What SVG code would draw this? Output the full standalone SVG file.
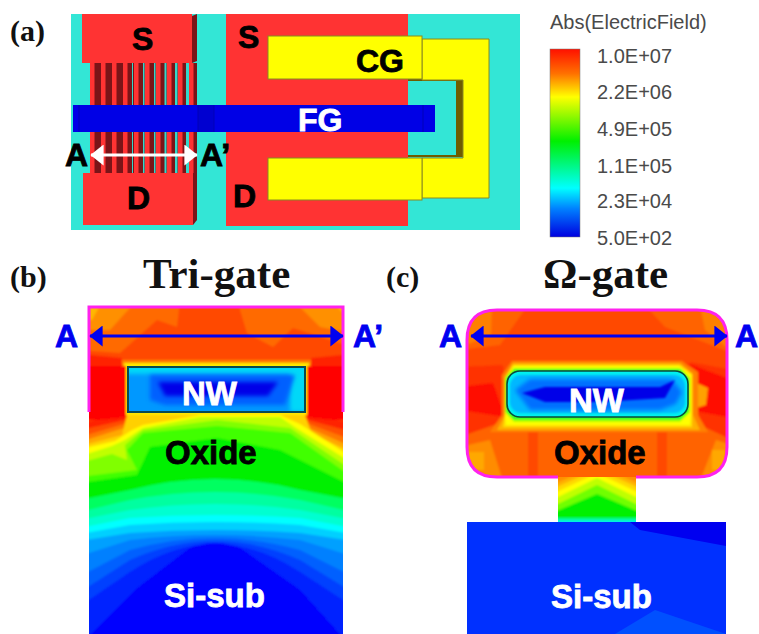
<svg xmlns="http://www.w3.org/2000/svg" width="759" height="634" viewBox="0 0 759 634">
<style>
.lb{font-family:"Liberation Sans",Arial,sans-serif;font-weight:700;font-size:32px;stroke-width:.8px}
.k{fill:#000;stroke:#000}.w{fill:#fff;stroke:#fff}.b{fill:#0000f0;stroke:#0000f0}
.ser{font-family:"Liberation Serif","Times New Roman",serif;font-weight:700;fill:#111}
.leg{font-family:"Liberation Sans",Arial,sans-serif;font-size:20px;fill:#4a4a4a}
.red{fill:#ff3333}.dk{fill:#7a1418}.yl{fill:#ffff00;stroke:#8a8a20;stroke-width:1}
</style>
<defs>
<linearGradient id="bar" x1="0" y1="0" x2="0" y2="1">
<stop offset="0" stop-color="#ff1000"/><stop offset=".13" stop-color="#ff7000"/><stop offset=".255" stop-color="#ffff00"/><stop offset=".49" stop-color="#00f000"/><stop offset=".74" stop-color="#00ffff"/><stop offset=".85" stop-color="#0080ff"/><stop offset="1" stop-color="#0000e0"/>
</linearGradient>
<filter id="soft" x="-5%" y="-5%" width="110%" height="110%"><feGaussianBlur stdDeviation="0.8"/></filter>
<filter id="soft2" x="-10%" y="-30%" width="120%" height="160%"><feGaussianBlur stdDeviation="2.2"/></filter>
<clipPath id="cb"><rect x="89" y="307" width="254" height="327"/></clipPath>
<clipPath id="cc"><path d="M467,340Q467,310 497,310H697Q727,310 727,340V447Q727,477 697,477H497Q467,477 467,447Z"/></clipPath>
<clipPath id="cs"><rect x="558" y="470" width="78" height="52"/></clipPath>
<clipPath id="n1"><rect x="129" y="368" width="175" height="43"/></clipPath>
<clipPath id="n2"><rect x="508" y="372" width="179" height="44" rx="12"/></clipPath>
<marker id="hw" markerWidth="4.4" markerHeight="7" refX="4.2" refY="3.5" orient="auto-start-reverse" markerUnits="strokeWidth"><path d="M0,0L4.4,3.5L0,7Z" fill="#fff"/></marker>
<marker id="hb" markerWidth="4.4" markerHeight="7" refX="4.2" refY="3.5" orient="auto-start-reverse" markerUnits="strokeWidth"><path d="M0,0L4.4,3.5L0,7Z" fill="#0000f0"/></marker>
</defs>
<rect width="759" height="634" fill="#fff"/>

<g id="panel-a">
<rect x="71" y="14" width="449" height="216" fill="#33e6d6"/>
<g id="a-finfet">
<rect x="90" y="63" width="107" height="110" fill="#7a1418"/>
<path d="M132,63h1v110h-1zM143,63h1.500v110h-1.500zM154,63h1.500v110h-1.500zM164.500,63h2v110h-2zM175,63h2.500v110h-2.500zM186,63h3v110h-3z" fill="#33d8cc"/>
<path d="M90,63h4.500v110h-4.500zM101,63h4.500v110h-4.500zM112,63h4.500v110h-4.500zM123,63h4.500v110h-4.500zM134,63h4.500v110h-4.500zM145,63h4.500v110h-4.500zM156,63h4.500v110h-4.500zM167,63h4.500v110h-4.500zM178,63h4.500v110h-4.500zM189,63h4.500v110h-4.500z" class="red"/>
<rect x="82" y="14" width="110" height="49" class="red"/>
<path d="M192,16l5,-2v47l-5,2z" class="dk"/>
<rect x="83" y="173" width="110" height="52" class="red"/>
<path d="M193,173h4v47l-4,5z" class="dk"/>
</g>
<g id="a-device">
<rect x="226" y="14" width="182" height="212" class="red"/>
<path d="M408,80h48v75h-48z" fill="#33e6d6"/>
<path d="M408,79h55v76h-7v-74h-48zM408,155h55v2h-55z" fill="#6e5c00"/>
<path d="M422,39H489V198H422V158H463V80H422Z" class="yl"/>
<rect x="268" y="36" width="154" height="43" class="yl"/>
<rect x="268" y="158" width="154" height="42" class="yl"/>
</g>
<g id="a-fg">
<rect x="73" y="105" width="362" height="27" fill="#0000e6"/>
<rect x="198" y="105" width="16" height="27" fill="#0000d0"/>
<path d="M79,105v27M198,105v27M214,105v27M423,105v27" stroke="#0000b8" stroke-width="1" fill="none"/>
</g>
<text class="lb k" x="132" y="50">S</text>
<text class="lb k" x="238" y="48">S</text>
<text class="lb k" x="127" y="209">D</text>
<text class="lb k" x="233" y="207">D</text>
<text class="lb k" x="356" y="72">CG</text>
<text class="lb w" x="298" y="131">FG</text>
<text class="lb k" x="65" y="166">A</text>
<text class="lb k" x="200" y="166">A’</text>
</g>

<g id="legend">
<text class="leg" x="550" y="29">Abs(ElectricField)</text>
<rect x="550" y="49" width="30" height="188" fill="url(#bar)" stroke="#777" stroke-width=".5"/>
<text class="leg" x="597" y="63">1.0E+07</text>
<text class="leg" x="597" y="99">2.2E+06</text>
<text class="leg" x="597" y="136">4.9E+05</text>
<text class="leg" x="597" y="173">1.1E+05</text>
<text class="leg" x="597" y="208">2.3E+04</text>
<text class="leg" x="597" y="245">5.0E+02</text>
</g>

<g id="panel-b">
<g clip-path="url(#cb)"><g filter="url(#soft)">
<rect x="80" y="300" width="272" height="340" fill="#ff4a00"/>
<path d="M80,300H180L177,327L157,320L120,353L80,350Z" fill="#ff6a00"/>
<path d="M237,300H352V347L293,328L273,347L247,333Z" fill="#ff6a00"/>
<path d="M80,300H137L110,330H80Z" fill="#ff9000"/>
<path d="M293,300H352V333L320,327Z" fill="#ff9000"/>
<path d="M80,300H103L92,320H80Z" fill="#ffb800"/>
<path d="M330,300H352V322Z" fill="#ffb800"/>
<rect x="122" y="360" width="189" height="54" fill="#ff8000"/>
<rect x="124" y="363" width="185" height="52" fill="#ffe800"/>
<path d="M80,354L122,358V420H80ZM311,358L352,354V420H311Z" fill="#ff2400"/>
<path d="M80,366H126V420H80ZM307,366H352V420H307Z" fill="#ff0000"/>
<path d="M80,422L127,417H305L352,422V640H80Z" fill="#ff2000"/>
<path d="M80,430L125,420L130,415H303L308,420L352,432V640H80Z" fill="#ff5000"/>
<path d="M80,437L124,424L130,415H303L309,424L352,440V640H80Z" fill="#ff7800"/>
<path d="M80,442L124,428L130,415H303L309,428L352,447V640H80Z" fill="#ffa800"/>
<path d="M80,446L122,435L127,415H305L312,434L352,452V640H80Z" fill="#ffd000"/>
<path d="M80,449L115,441L132,430L143,425L200,415H280L300,424L352,457V640H80Z" fill="#ffff00"/>
<path d="M80,456L112,446L125,440L143,428L200,417H280L296,428L352,463V640H80Z" fill="#c0ff00"/>
<path d="M80,463L112,454L127,460L125,445L143,430L217,420L290,428L352,470V640H80Z" fill="#80ff00"/>
<path d="M80,477L137,470L127,450L143,433L217,426L290,433L352,477V640H80Z" fill="#40ff00"/>
<path d="M80,483L137,475L150,447L217,438L280,450L352,486V640H80Z" fill="#00f000"/>
<path d="M80,500L130,490Q215,468 300,490L352,500V640H80Z" fill="#00ff60"/>
<path d="M80,512L130,500Q215,484 300,500L352,512V640H80Z" fill="#00ffa0"/>
<path d="M80,520L130,510Q215,498 300,510L352,520V640H80Z" fill="#00ffd0"/>
<path d="M80,528L130,518Q215,512 300,518L352,528V640H80Z" fill="#00ffff"/>
<path d="M80,534L130,525Q215,519 300,525L352,534V640H80Z" fill="#00d0ff"/>
<path d="M80,541L130,533Q215,527 300,533L352,541V640H80Z" fill="#00a0ff"/>
<path d="M80,556L130,540Q215,530 300,540L352,556V640H80Z" fill="#0080ff"/>
<path d="M80,576L130,550Q215,526 300,550L352,576V640H80Z" fill="#0060ff"/>
<path d="M80,592L130,560Q215,522 300,560L352,592V640H80Z" fill="#0040ff"/>
<path d="M80,606L130,572Q215,516 300,572L352,606V640H80Z" fill="#0020ff"/>
<path d="M85,640L135,590L190,548Q215,538 240,548L300,590L345,640Z" fill="#0000ff"/>
</g></g>
<path d="M89,412V307H343V412" fill="none" stroke="#ff22ee" stroke-width="3"/>
<g id="b-nw">
<rect x="128" y="367" width="177" height="45" fill="#0098ff" stroke="#0a4a50" stroke-width="2"/>
<g clip-path="url(#n1)">
<path d="M125,365H308V374H125ZM290,365H308V412H290Z" fill="#00d8f8" filter="url(#soft2)"/>
<path d="M150,375H295L285,405H165L150,400Z" fill="#0060ff" filter="url(#soft2)"/>
<path d="M158,382H278L268,396H165Z" fill="#0000e8" filter="url(#soft2)"/>
</g>
</g>
<text class="lb w" x="182" y="405" style="font-size:33px">NW</text>
<text class="lb k" x="165" y="464" style="font-size:33px">Oxide</text>
<text class="lb w" x="164" y="607" style="font-size:33px">Si-sub</text>
</g>

<g id="panel-c">
<g clip-path="url(#cs)"><g filter="url(#soft)">
<rect x="550" y="465" width="94" height="60" fill="#ff9000"/>
<path d="M550,486L597,465L644,486V530H550Z" fill="#ffb000"/>
<path d="M550,490L597,469L644,490V530H550Z" fill="#ffd800"/>
<path d="M550,495L597,473L644,495V530H550Z" fill="#ffff00"/>
<path d="M550,501L597,478L644,501V530H550Z" fill="#c0ff00"/>
<path d="M550,508L597,485L644,508V530H550Z" fill="#70ff00"/>
<path d="M550,514L597,494L644,514V530H550Z" fill="#00f000"/>
<path d="M550,518H644V530H550Z" fill="#00ff90"/>
<path d="M550,520.500H644V530H550Z" fill="#00f0f0"/>
</g></g>
<g clip-path="url(#cc)"><g filter="url(#soft)">
<rect x="460" y="305" width="272" height="176" fill="#ff6400"/>
<path d="M528,305H645L665,327L732,353V375H460V350L500,345Z" fill="#ff4a00"/>
<path d="M460,305H492L491,335L466,345H460ZM700,305H732V352L705,330Z" fill="#ff8000"/>
<path d="M460,447L490,440L503,481H460ZM700,481L716,440L732,445V481Z" fill="#ff8c00"/>
<path d="M468,452H484V470H468ZM712,450H725V470H712Z" fill="#ffa800"/>
<path d="M460,367L503,365L508,420L460,437ZM690,362L732,370V440L700,425Z" fill="#ff3000"/>
<path d="M460,387L493,383L505,417L460,410ZM680,362L692,365L732,380V418L690,410L700,395Z" fill="#ff0c00"/>
<path d="M528,432H538V481H528ZM657,432H667V481H657Z" fill="#ff4a00"/>
<path d="M690,380L708,388L706,405L690,410Z" fill="#ffa000"/>
<path d="M512,361H682L698,372V415L708,432H490L502,415V375Z" fill="#ff8000"/>
<path d="M513,363H680L693,374V415L700,430H497L505,415V377Z" fill="#ffb000"/>
<path d="M513,365H680L692,374V415L692,427H503L505,415V378Z" fill="#ffe000"/>
<path d="M514,366H679L691,375V415L690,425H506L505,415V378Z" fill="#ffff00"/>
<path d="M514,368H679L690,378V412L680,422H514L505,412V378Z" fill="#b0ff00"/>
<path d="M514,369H681L689,378V412L680,420H514L506,412V378Z" fill="#30ff20"/>
</g></g>
<path d="M558,477H497Q467,477 467,447V340Q467,310 497,310H697Q727,310 727,340V447Q727,477 697,477H636" fill="none" stroke="#ff22ee" stroke-width="3"/>
<g id="c-nw">
<rect x="507" y="371" width="181" height="46" rx="13" fill="#00f0f0" stroke="#0a4a40" stroke-width="1.6"/>
<g clip-path="url(#n2)">
<rect x="510" y="375" width="175" height="38" rx="11" fill="#00b8ff" filter="url(#soft)"/>
<path d="M515,390L530,379H672L682,392L676,404L660,410H530Z" fill="#0070ff" filter="url(#soft2)"/>
<path d="M522,393L545,387H660L675,380L665,398L600,402L545,402Z" fill="#0000e8" filter="url(#soft)"/>
</g>
</g>
<g id="c-sub">
<rect x="467" y="522" width="259" height="112" fill="#0030ff"/>
<path d="M630,522H726V546L640,530Z" fill="#0000f0"/>
<path d="M615,634L655,610L726,634Z" fill="#0050ff"/>
</g>
<text class="lb w" x="569" y="412" style="font-size:33px">NW</text>
<text class="lb k" x="554" y="464" style="font-size:33px">Oxide</text>
<text class="lb w" x="551" y="608" style="font-size:33px">Si-sub</text>
</g>

<g id="connectors">
<line x1="91" y1="155" x2="197" y2="155" stroke="#fff" stroke-width="3" marker-start="url(#hw)" marker-end="url(#hw)"/>
<line x1="90" y1="336" x2="343" y2="336" stroke="#0000f0" stroke-width="3" marker-start="url(#hb)" marker-end="url(#hb)"/>
<line x1="471" y1="336" x2="727" y2="336" stroke="#0000f0" stroke-width="3" marker-start="url(#hb)" marker-end="url(#hb)"/>
</g>

<g id="labels">
<text class="ser" x="10" y="41" font-size="30">(a)</text>
<text class="ser" x="10" y="287" font-size="30">(b)</text>
<text class="ser" x="386" y="287" font-size="30">(c)</text>
<text class="ser" x="143" y="288" font-size="43">Tri-gate</text>
<text class="ser" x="543" y="288" font-size="43">Ω-gate</text>
<text class="lb b" x="55" y="347">A</text>
<text class="lb b" x="353" y="347">A’</text>
<text class="lb b" x="439" y="347">A</text>
<text class="lb b" x="735" y="347">A</text>
</g>
</svg>
